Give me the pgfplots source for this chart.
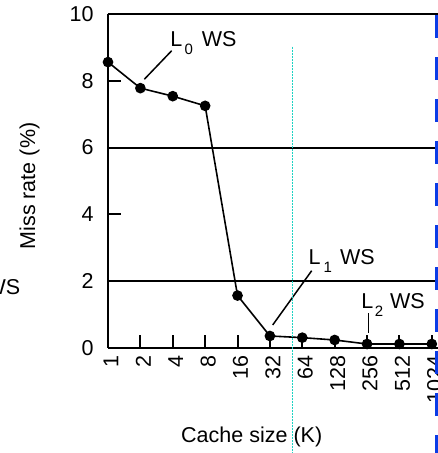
\documentclass[border=0pt]{standalone}
\usepackage{fontspec}
\setmainfont{Liberation Sans}
\usepackage{pgfplots}
\pgfplotsset{compat=1.18}
\definecolor{wscyan}{RGB}{30,210,195}
\definecolor{wsblue}{RGB}{10,60,230}
% subscript of the working-set labels
\newcommand{\wsub}[1]{\raisebox{-8pt}{\fontsize{15}{15}\selectfont #1}}

\begin{document}
\begin{tikzpicture}[font=\fontsize{21.5}{24}\selectfont]
\begin{axis}[
    at={(108pt,105pt)}, anchor=origin,
    scale only axis, width=340pt, height=334pt,
    xmin=0, xmax=10.5, ymin=0, ymax=10,
    axis x line*=bottom, axis y line*=left,
    axis line style={line width=2pt},
    tick align=inside, major tick length=12.5pt,
    tick style={black, line width=2pt},
    xtick={0,...,10},
    xticklabels={1,2,4,8,16,32,64,128,256,512,1024},
    xticklabel style={yshift=-4pt, xshift=3pt, rotate=90, anchor=east},
    ytick={2,6,10}, ymajorgrids,
    grid style={black, line width=2pt},
    extra y ticks={0,4,8}, extra y tick style={grid=none},
    tick label style={font=\fontsize{21.5}{24}\selectfont},
    yticklabel style={xshift=-11pt},
    /pgf/number format/assume math mode=true,
    clip=false,
]
\addplot[black, line width=1.6pt, mark=*, mark size=4.5pt]
    coordinates {(0,8.56)(1,7.78)(2,7.54)(3,7.25)(4,1.57)(5,0.36)
                 (6,0.31)(7,0.24)(8,0.12)(9,0.12)(10,0.12)};
\end{axis}

\begin{scope}[x=1pt, y=1pt]
  % working-set pointers
  \draw[line width=1.5pt] (171.7,402.3) -- (144.3,373.7);
  \draw[line width=1.5pt] (311.7,182.3) -- (272.7,128);
  \draw[line width=1.5pt] (368.3,139.7) -- (368.3,119.7);
  \node[anchor=base west, inner sep=0pt] at (170.1,406.3) {L\kern2.3pt\wsub{0}\kern9pt WS};
  \node[anchor=base west, inner sep=0pt] at (308.4,188) {L\kern3pt\wsub{1}\kern8.3pt WS};
  \node[anchor=base west, inner sep=0pt] at (361.1,144.7) {L\kern1.5pt\wsub{2}\kern7pt WS};
  \node[anchor=base east, inner sep=0pt] at (20.5,158) {WS};
  % axis titles
  \node[rotate=90] at (29.5,267) {Miss rate (\%)};
  \node[anchor=base] at (251.7,10.3) {Cache size (K)};
  % marker lines
  \draw[wscyan, line width=1.5pt, dash pattern=on 2pt off 1pt] (292.7,406.3) -- (292.7,-5);
  \draw[wsblue, line width=5pt, dash pattern=on 23pt off 19pt] (437.5,438) -- (437.5,-10);
  \pgfresetboundingbox
  \useasboundingbox (0,0) rectangle (437,453);
\end{scope}
\end{tikzpicture}
\end{document}
